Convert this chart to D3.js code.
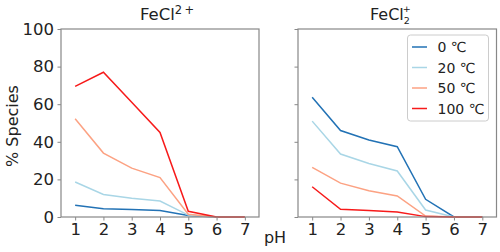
<!DOCTYPE html>
<html><head><meta charset="utf-8">
<script src="https://cdn.jsdelivr.net/npm/d3@7"></script>
<style>body{margin:0;background:#fff}svg{display:block;font-family:"DejaVu Sans",sans-serif}</style>
</head><body><svg id="c" width="500" height="252"></svg>
<script>
const pH = [1, 2, 3, 4, 5, 6, 7];
const temps = ["0 \u2103", "20 \u2103", "50 \u2103", "100 \u2103"];
const colors = ["#2272b5", "#a9d6e6", "#fca283", "#f71a1a"];
const yTicks = [0, 20, 40, 60, 80, 100];
// FeCl2+ panel
const fecl_0 = [6.2, 4.4, 4.0, 3.4, 0.8, 0, 0];
const fecl_20 = [18.6, 12.0, 10.0, 8.5, 1.0, 0, 0];
const fecl_50 = [52.3, 34.0, 26.0, 21.0, 1.5, 0, 0];
const fecl_100 = [69.5, 77.0, 61.0, 45.0, 3.0, 0, 0];
// FeCl2 + panel
const fecl2_0 = [63.7, 46.0, 41.0, 37.4, 9.4, 0, 0];
const fecl2_20 = [51.0, 33.5, 28.5, 24.5, 3.7, 0, 0];
const fecl2_50 = [26.4, 18.0, 14.0, 11.2, 0.5, 0, 0];
const fecl2_100 = [16.1, 4.1, 3.5, 2.7, 0.2, 0, 0];

const panels = [
  {x0: 61, x1: 259, series: [fecl_0, fecl_20, fecl_50, fecl_100], labels: true},
  {x0: 298, x1: 496.5, series: [fecl2_0, fecl2_20, fecl2_50, fecl2_100], labels: false}
];
const svg = d3.select("#c");
const yTop = 29, yBot = 217;
const y = d3.scaleLinear().domain([0, 100]).range([yBot, yTop]);
const spine = "#888";
const tickFS = 16.5;

panels.forEach((p, pi) => {
  const x = d3.scaleLinear().domain([0.5, 7.5]).range([p.x0, p.x1]);
  const g = svg.append("g");
  p.series.forEach((s, i) => {
    g.append("path").datum(s)
      .attr("fill", "none").attr("stroke", colors[i]).attr("stroke-width", 1.5)
      .attr("d", d3.line().x((d, j) => x(pH[j])).y(d => y(d)));
  });
  g.append("rect").attr("x", p.x0).attr("y", yTop).attr("width", p.x1 - p.x0).attr("height", yBot - yTop)
    .attr("fill", "none").attr("stroke", spine).attr("stroke-width", 1.2);
  const xa = g.append("g").attr("transform", `translate(0,${yBot})`)
    .call(d3.axisBottom(x).tickValues(pH).tickSize(3.5).tickPadding(2.5).tickFormat(d3.format("d")));
  const ya = g.append("g").attr("transform", `translate(${p.x0},0)`)
    .call(d3.axisLeft(y).tickValues(yTicks).tickSize(3.5).tickPadding(3.5).tickFormat(p.labels ? d3.format("d") : ""));
  [xa, ya].forEach(a => {
    a.select(".domain").remove();
    a.selectAll("line").attr("stroke", spine).attr("stroke-width", 1);
    a.selectAll("text").attr("font-size", tickFS).attr("fill", "#222").attr("font-family", "DejaVu Sans");
  });
});

// titles
const t1 = svg.append("text").attr("x", 140).attr("y", 19.5)
  .attr("font-size", 16.5).attr("fill", "#222");
t1.append("tspan").text("FeCl");
t1.append("tspan").attr("font-size", 11.5).attr("dy", -6).text("2\u2009+");

const t2 = svg.append("text").attr("x", 370).attr("y", 19.5).attr("font-size", 16).attr("fill", "#222");
t2.append("tspan").text("FeCl");
t2.append("tspan").attr("font-size", 9.5).attr("dx", -1).attr("dy", -8).text("+");
t2.append("tspan").attr("font-size", 9.5).attr("dx", -7).attr("dy", 12.5).text("2");

// axis labels
svg.append("text").attr("transform", "translate(17.5,126) rotate(-90)").attr("text-anchor", "middle")
  .attr("font-size", 16).attr("fill", "#222").text("% Species");
svg.append("text").attr("x", 275).attr("y", 243).attr("text-anchor", "middle")
  .attr("font-size", 16).attr("fill", "#222").text("pH");

// legend
const lg = svg.append("g");
lg.append("rect").attr("x", 407.5).attr("y", 35).attr("width", 81).attr("height", 86).attr("rx", 3)
  .attr("fill", "#fff").attr("fill-opacity", 0.8).attr("stroke", "#ccc").attr("stroke-width", 1);
temps.forEach((t, i) => {
  const yy = 47 + i * 20.5;
  lg.append("line").attr("x1", 412).attr("x2", 427).attr("y1", yy).attr("y2", yy)
    .attr("stroke", colors[i]).attr("stroke-width", 1.5);
  lg.append("text").attr("x", 437.5).attr("y", yy).attr("dy", "0.36em").attr("font-size", 14)
    .attr("fill", "#222").text(t);
});
</script></body></html>
